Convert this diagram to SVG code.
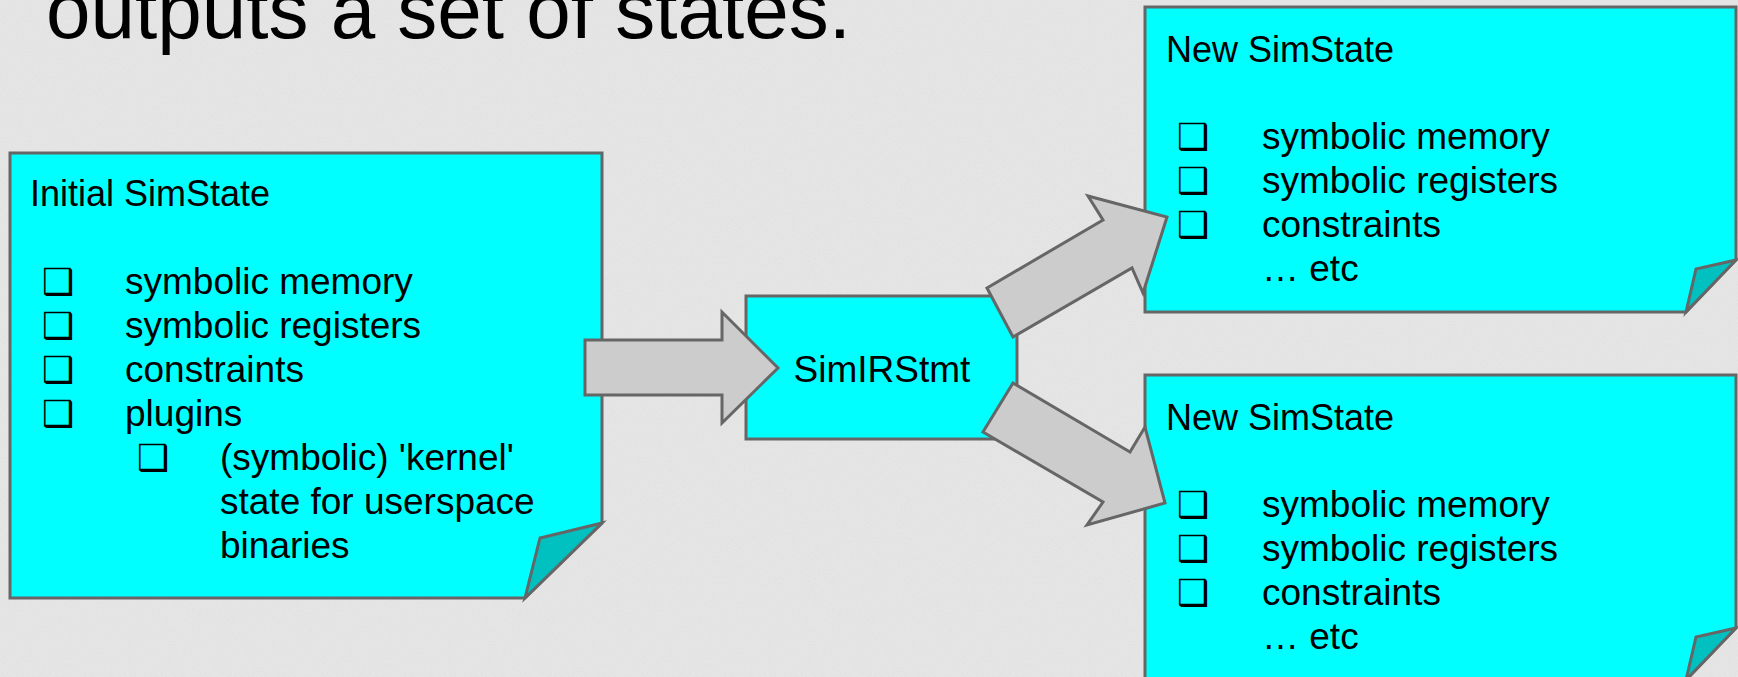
<svg xmlns="http://www.w3.org/2000/svg" width="1738" height="677" viewBox="0 0 1738 677">
  <defs>
    <filter id="grain" x="0" y="0" width="100%" height="100%">
      <feTurbulence type="fractalNoise" baseFrequency="0.8" numOctaves="2" seed="7" result="n"/>
      <feColorMatrix in="n" type="matrix" values="0 0 0 0 0.55  0 0 0 0 0.55  0 0 0 0 0.55  0.35 0 0 0 -0.12"/>
    </filter>
    <style>
      .note { fill: #00ffff; stroke: #666666; stroke-width: 3; stroke-linejoin: miter; }
      .flap { fill: #00c0c0; stroke: #666666; stroke-width: 3; stroke-linejoin: miter; }
      .arrow { fill: #cccccc; stroke: #666666; stroke-width: 3; stroke-linejoin: miter; }
      text { font-family: "Liberation Sans", Arial, sans-serif; fill: #000000; }
      .title { font-size: 80px; }
      .head { font-size: 36px; }
      .item { font-size: 37px; }
      .box { font-family: "DejaVu Sans", sans-serif; font-size: 36px; }
    </style>
  </defs>

  <!-- paper background -->
  <rect x="0" y="0" width="1738" height="677" fill="#e6e6e6"/>
  <rect x="0" y="0" width="1738" height="677" filter="url(#grain)"/>

  <text class="title" x="46" y="38">outputs a set of states.</text>

  <!-- initial state note -->
  <g id="initial-simstate">
    <path class="note" d="M10,153 H602 V523 L525,598 H10 Z"/>
    <path class="flap" d="M602,523 L540,538 L525,598 Z"/>
    <text class="head" x="30" y="206">Initial SimState</text>
    <text class="box" x="42" y="294">❑</text>
    <text class="item" x="125" y="294">symbolic memory</text>
    <text class="box" x="42" y="338">❑</text>
    <text class="item" x="125" y="338">symbolic registers</text>
    <text class="box" x="42" y="382">❑</text>
    <text class="item" x="125" y="382">constraints</text>
    <text class="box" x="42" y="426">❑</text>
    <text class="item" x="125" y="426">plugins</text>
    <text class="box" x="137" y="470">❑</text>
    <text class="item" x="220" y="470">(symbolic) 'kernel'</text>
    <text class="item" x="220" y="514">state for userspace</text>
    <text class="item" x="220" y="558">binaries</text>
  </g>

  <!-- statement node -->
  <g id="simirstmt">
    <rect class="note" x="746" y="296" width="271" height="143"/>
    <text class="item" x="882" y="382" text-anchor="middle">SimIRStmt</text>
  </g>

  <!-- successor state (upper) -->
  <g id="new-simstate-1">
    <path class="note" d="M1145,7 H1736 V260 L1686,312 H1145 Z"/>
    <path class="flap" d="M1736,260 L1696,269 L1686,312 Z"/>
    <text class="head" x="1166" y="62">New SimState</text>
    <text class="box" x="1177" y="149">❑</text>
    <text class="item" x="1262" y="149">symbolic memory</text>
    <text class="box" x="1177" y="193">❑</text>
    <text class="item" x="1262" y="193">symbolic registers</text>
    <text class="box" x="1177" y="237">❑</text>
    <text class="item" x="1262" y="237">constraints</text>
    <text class="item" x="1262" y="281">… etc</text>
  </g>

  <!-- successor state (lower) -->
  <g id="new-simstate-2">
    <path class="note" d="M1145,375 H1736 V628 L1686,680 H1145 Z"/>
    <path class="flap" d="M1736,628 L1696,637 L1686,680 Z"/>
    <text class="head" x="1166" y="430">New SimState</text>
    <text class="box" x="1177" y="517">❑</text>
    <text class="item" x="1262" y="517">symbolic memory</text>
    <text class="box" x="1177" y="561">❑</text>
    <text class="item" x="1262" y="561">symbolic registers</text>
    <text class="box" x="1177" y="605">❑</text>
    <text class="item" x="1262" y="605">constraints</text>
    <text class="item" x="1262" y="649">… etc</text>
  </g>

  <!-- block arrows between states -->
  <g id="connectors">
    <polygon class="arrow" points="585,340 722,340 722,312 778,368 722,423 722,395 585,395"/>
    <polygon class="arrow" points="987,288 1103,220 1088,196 1167,217 1143,293 1132,268 1013,337"/>
    <polygon class="arrow" points="1013,383 1130,452 1145,427 1165,503 1087,525 1103,502 983,432"/>
  </g>
</svg>
